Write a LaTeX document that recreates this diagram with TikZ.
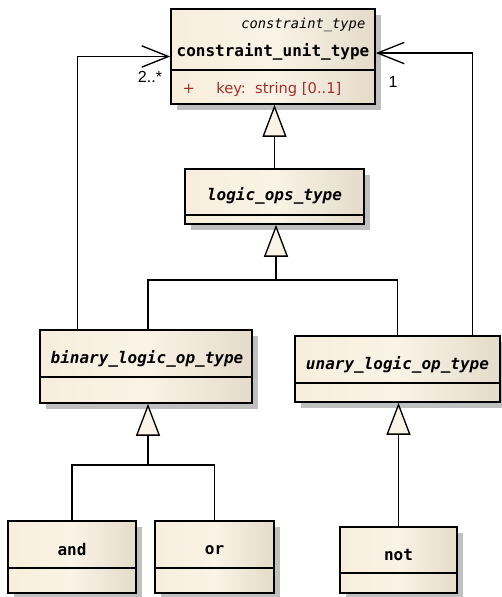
\documentclass[tikz,border=0pt]{standalone}
\usepackage{fontspec}
\setmainfont{Liberation Sans}
\setmonofont{DejaVu Sans Mono}
\newfontfamily\attrfont{DejaVu Sans}
\usetikzlibrary{arrows.meta,shadows}

\definecolor{clsleft}{HTML}{F7EEDC}
\definecolor{clsmid}{HTML}{FAF3E6}
\definecolor{clsright}{HTML}{E4DBCA}
\definecolor{attrred}{HTML}{A0302C}
\definecolor{shadowgray}{HTML}{C0C0C0}

\tikzset{
  cls/.style={draw, line width=1.2pt, left color=clsleft, right color=clsright, middle color=clsmid,
    drop shadow={shadow xshift=4.5pt, shadow yshift=-4.5pt, fill=shadowgray, opacity=1}, inner sep=0pt},
  clsname/.style={font=\ttfamily\bfseries\fontsize{12}{14}\selectfont},
  absname/.style={font=\ttfamily\bfseries\itshape\fontsize{12}{14}\selectfont},
  divider/.style={line width=1.2pt},
  conn/.style={line width=1pt},
  gen/.style={conn, -{Triangle[length=24pt, width=18pt, fill=clsmid]}},
  assoc/.style={conn, -{Straight Barb[length=20pt, width=16pt]}},
  mult/.style={font=\fontsize{12}{14}\selectfont},
}

\begin{document}
\begin{tikzpicture}[x=0.75pt, y=-0.75pt]
    \useasboundingbox (0,0) rectangle (502,597);

    % class boxes
    \node[cls, minimum width=153pt, minimum height=71.25pt] at (273,56.5) (cu) {};
    \node[cls, minimum width=134.25pt, minimum height=41.25pt] at (274.5,196.5) (lo) {};
    \node[cls, minimum width=159pt, minimum height=54.75pt] at (146,366.5) (bin) {};
    \node[cls, minimum width=153.75pt, minimum height=49.5pt] at (397.5,369) (un) {};
    \node[cls, minimum width=96pt, minimum height=54pt] at (72,557) (and) {};
    \node[cls, minimum width=89.25pt, minimum height=54pt] at (214.5,557) (or) {};
    \node[cls, minimum width=87.75pt, minimum height=49.5pt] at (398.5,560) (not) {};

    % dividers
    \draw[divider] (cu.west |- 0,70) -- (cu.east |- 0,70);
    \draw[divider] (lo.west |- 0,215) -- (lo.east |- 0,215);
    \draw[divider] (bin.west |- 0,377) -- (bin.east |- 0,377);
    \draw[divider] (un.west |- 0,383) -- (un.east |- 0,383);
    \draw[divider] (and.west |- 0,568) -- (and.east |- 0,568);
    \draw[divider] (or.west |- 0,568) -- (or.east |- 0,568);
    \draw[divider] (not.west |- 0,573) -- (not.east |- 0,573);

    % texts
    \node[anchor=east, font=\ttfamily\itshape\fontsize{10.3}{12}\selectfont] at (370,25) (cust) {constraint\_type};
    \node[clsname] at (273,52) (cuname) {constraint\_unit\_type};
    \node[anchor=west, text=attrred, font=\attrfont\fontsize{11}{13}\selectfont] at (178,89) (cuattr) {+\hspace{16pt}key:\ \ string [0..1]};
    \node[absname] at (274.5,196) (loname) {logic\_ops\_type};
    \node[absname] at (147,359) (binname) {binary\_logic\_op\_type};
    \node[absname] at (397.5,365) (unname) {unary\_logic\_op\_type};
    \node[clsname] at (72,550) (andname) {and};
    \node[clsname] at (214.5,550) (orname) {or};
    \node[clsname] at (398.5,555) (notname) {not};

    % junctions
    \coordinate (j1) at (276,280);
    \coordinate (j2) at (148,465);

    % paths
    \draw[gen] (lo.north) -- (lo.north |- cu.south); % logic_ops -> constraint_unit
    \draw[gen] (j1) -- (j1 |- lo.south); % junction -> logic_ops
    \draw[conn] ([xshift=1.5pt]bin.north) |- (j1); % binary -> junction
    \draw[conn] (un.north) |- (j1); % unary -> junction
    \draw[gen] (j2) -- (j2 |- bin.south); % junction -> binary
    \draw[conn] (and.north) |- (j2); % and -> junction
    \draw[conn] (or.north) |- (j2); % or -> junction
    \draw[gen] (not.north) -- (not.north |- un.south); % not -> unary

    \draw[assoc] ([xshift=28.5pt]bin.north west) |- (cu.west); % binary -> constraint_unit
    \draw[assoc] ([xshift=-21pt]un.north east) |- ([yshift=2.6pt]cu.east); % unary -> constraint_unit

    % multiplicities
    \node[mult] at (150,77) (m1) {2..*};
    \node[mult] at (393,82) (m2) {1};

\end{tikzpicture}
\end{document}
